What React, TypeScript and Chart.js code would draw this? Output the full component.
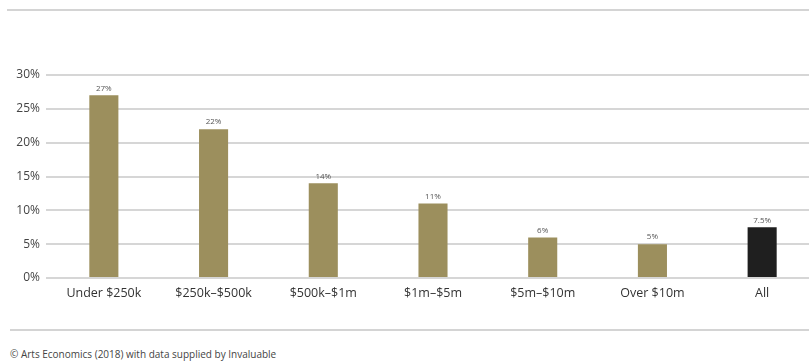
import React, { useEffect, useRef } from "react";
import { Chart, registerables } from "chart.js";

Chart.register(...registerables);

const categories = ["Under $250k", "$250k–$500k", "$500k–$1m", "$1m–$5m", "$5m–$10m", "Over $10m", "All"];
const values = [27, 22, 14, 11, 6, 5, 7.5];
const valueLabels = ["27%", "22%", "14%", "11%", "6%", "5%", "7.5%"];
const barColors = ["#9c8f5d", "#9c8f5d", "#9c8f5d", "#9c8f5d", "#9c8f5d", "#9c8f5d", "#1f1f1f"];
const yTicks = [0, 5, 10, 15, 20, 25, 30];
const footerText = "© Arts Economics (2018) with data supplied by Invaluable";

const FONT = "'Open Sans', 'Noto Sans', sans-serif";

const valueLabelPlugin = {
  id: "valueLabels",
  afterDatasetsDraw(chart: any) {
    const ctx = chart.ctx;
    const meta = chart.getDatasetMeta(0);
    ctx.save();
    ctx.font = `8px ${FONT}`;
    ctx.fillStyle = "#555";
    ctx.textAlign = "center";
    ctx.textBaseline = "bottom";
    meta.data.forEach((bar: any, i: number) => {
      ctx.fillText(valueLabels[i], bar.x, bar.y - 3);
    });
    ctx.restore();
  },
};

export default function App() {
  const ref = useRef<HTMLCanvasElement | null>(null);
  useEffect(() => {
    if (!ref.current) return;
    const chart = new Chart(ref.current, {
      type: "bar",
      data: {
        labels: categories,
        datasets: [
          {
            data: values,
            backgroundColor: barColors,
            borderWidth: 0,
            categoryPercentage: 1,
            barPercentage: 0.265,
          },
        ],
      },
      options: {
        animation: false,
        responsive: false,
        maintainAspectRatio: false,
        devicePixelRatio: 1,
        layout: { padding: { top: 75, bottom: 0, left: 0, right: 0 } },
        plugins: { legend: { display: false }, tooltip: { enabled: false } },
        scales: {
          x: {
            grid: { display: false, drawTicks: false },
            border: { display: false },
            ticks: {
              color: "#333",
              font: { family: FONT, size: 12.5 },
              padding: 8,
              maxRotation: 0,
              autoSkip: false,
            },
            afterFit: (s: any) => {
              s.height = 22;
            },
          },
          y: {
            min: 0,
            max: 30,
            grid: { color: "#d6d6d6", lineWidth: 2, drawTicks: true, tickLength: 3 },
            border: { display: false },
            ticks: {
              stepSize: 5,
              color: "#444",
              font: { family: FONT, size: 12 },
              padding: 6,
              callback: (v: any) => (yTicks.includes(Number(v)) ? `${v}%` : ""),
            },
            afterFit: (s: any) => {
              s.width = 49;
            },
          },
        },
      },
      plugins: [valueLabelPlugin],
    });
    return () => chart.destroy();
  }, []);

  return (
    <div
      style={{
        position: "fixed",
        left: 0,
        top: 0,
        width: 809,
        height: 363,
        overflow: "hidden",
        background: "#fff",
      }}
    >
      <div style={{ position: "absolute", left: 7, top: 9, width: 802, height: 2, background: "#d4d4d4" }} />
      <canvas ref={ref} width={817} height={300} style={{ position: "absolute", left: 0, top: 0, width: 817, height: 300 }} />
      <div style={{ position: "absolute", left: 10, top: 329, width: 799, height: 2, background: "#d4d4d4" }} />
      <div
        style={{
          position: "absolute",
          left: 10,
          top: 347,
          fontFamily: FONT,
          fontSize: 10,
          color: "#444",
          whiteSpace: "nowrap",
        }}
      >
        {footerText}
      </div>
    </div>
  );
}
